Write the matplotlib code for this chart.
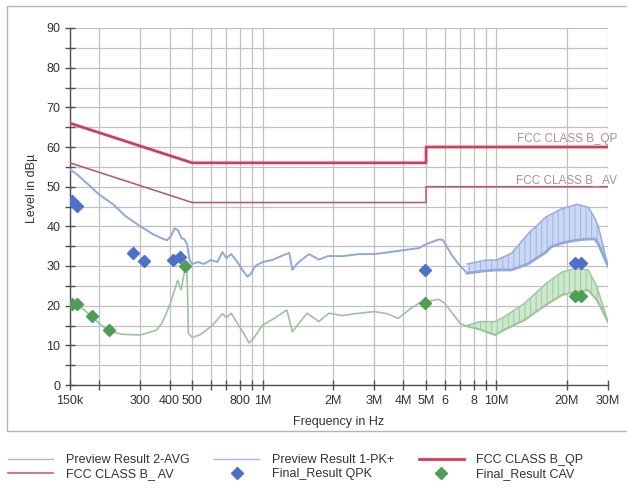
import matplotlib
matplotlib.use("Agg")
import matplotlib.pyplot as plt
import matplotlib.transforms as mtransforms
from matplotlib.patches import Rectangle
from matplotlib.lines import Line2D

plt.rcParams['font.family'] = ['Liberation Sans', 'DejaVu Sans']
plt.rcParams['hatch.linewidth'] = 0.7

# ---------------- data ----------------
pk_freq = [150e3, 160e3, 180e3, 200e3, 230e3, 260e3, 300e3, 340e3, 370e3, 390e3,
           405e3, 420e3, 435e3, 450e3, 462e3, 475e3, 487e3, 500e3, 530e3, 560e3,
           600e3, 640e3, 673e3, 700e3, 734e3, 780e3, 820e3, 860e3, 890e3, 930e3,
           1.0e6, 1.1e6, 1.2e6, 1.3e6, 1.34e6, 1.4e6, 1.5e6, 1.58e6, 1.74e6, 1.9e6,
           2.2e6, 2.6e6, 3.0e6, 3.5e6, 4.0e6, 4.66e6, 5.0e6, 5.67e6, 5.9e6, 6.4e6,
           6.86e6, 7.5e6]
pk_level = [54.3, 53.2, 50.5, 48.0, 45.5, 42.5, 40.0, 38.0, 37.0, 36.5,
            37.5, 39.5, 39.0, 37.0, 36.8, 35.5, 31.5, 30.5, 31.0, 30.5,
            31.5, 31.0, 33.5, 32.0, 33.0, 31.0, 29.0, 27.3, 28.0, 30.0,
            31.0, 31.5, 32.5, 33.3, 29.0, 30.5, 32.0, 33.0, 31.6, 32.5,
            32.5, 33.0, 33.0, 33.5, 34.0, 34.5, 35.5, 36.7, 36.6, 33.0,
            30.6, 28.2]
pk_band_freq = [7.5e6, 9e6, 10e6, 11.6e6, 13.7e6, 16.3e6, 17.1e6, 19.1e6, 21.5e6,
                22e6, 24.7e6, 26.4e6, 27.3e6, 30e6]
pk_band_low = [28.2, 28.8, 29.0, 29.0, 30.6, 33.5, 34.8, 35.8, 36.4,
               36.5, 36.8, 36.8, 35.5, 30.0]
pk_band_high = [30.5, 31.5, 31.5, 33.2, 38.2, 42.4, 43.0, 44.5, 45.3,
                45.6, 44.8, 42.0, 39.9, 30.0]

avg_freq = [150e3, 160e3, 180e3, 200e3, 220e3, 250e3, 300e3, 351e3, 370e3, 387e3,
            405e3, 420e3, 433e3, 448e3, 462e3, 474e3, 478e3, 481e3, 500e3, 537e3,
            580e3, 620e3, 673e3, 700e3, 734e3, 780e3, 830e3, 876e3, 920e3, 1.0e6,
            1.1e6, 1.27e6, 1.34e6, 1.45e6, 1.55e6, 1.74e6, 1.92e6, 2.2e6, 2.5e6, 3.0e6,
            3.4e6, 3.8e6, 4.3e6, 4.66e6, 4.95e6, 5.67e6, 6.0e6, 6.5e6, 7.0e6, 7.4e6]
avg_level = [21.0, 20.5, 18.0, 15.5, 13.6, 12.8, 12.6, 13.8, 15.5, 18.0,
             21.0, 24.0, 26.4, 24.0, 28.2, 29.7, 22.0, 13.0, 12.0, 12.6,
             14.0, 15.5, 18.0, 17.0, 18.1, 15.5, 13.0, 10.6, 12.0, 15.1,
             16.5, 18.9, 13.4, 16.0, 18.1, 16.0, 18.1, 17.5, 18.0, 18.5,
             18.0, 16.8, 19.3, 20.6, 21.0, 21.6, 20.6, 18.0, 15.5, 14.9]
avg_band_freq = [7.4e6, 8.5e6, 9.86e6, 10.8e6, 13.2e6, 16.3e6, 19.1e6, 21.5e6,
                 24.7e6, 26.9e6, 30e6]
avg_band_low = [14.9, 14.0, 12.6, 13.9, 16.4, 20.2, 22.7, 23.4, 23.9, 21.4, 15.9]
avg_band_high = [14.9, 16.0, 16.0, 17.2, 20.6, 25.6, 28.5, 29.3, 29.0, 24.8, 15.9]

qp_limit_freq = [150e3, 500e3, 5e6, 5e6, 30e6]
qp_limit = [66, 56, 56, 60, 60]
av_limit_freq = [150e3, 500e3, 5e6, 5e6, 30e6]
av_limit = [56, 46, 46, 50, 50]

qpk_freq = [153e3, 160e3, 279e3, 311e3, 413e3, 441e3, 4.95e6, 21.6e6, 23e6]
qpk_level = [46.5, 45.2, 33.3, 31.3, 31.5, 32.3, 29.1, 30.8, 30.8]
cav_freq = [153e3, 160e3, 186e3, 220e3, 467e3, 4.95e6, 21.6e6, 23e6]
cav_level = [20.5, 20.4, 17.5, 13.8, 30.0, 20.7, 22.4, 22.4]

xtick_vals = [150e3, 200e3, 300e3, 400e3, 500e3, 600e3, 700e3, 800e3, 900e3, 1e6,
              2e6, 3e6, 4e6, 5e6, 6e6, 7e6, 8e6, 9e6, 10e6, 20e6, 30e6]
xtick_labels = ["150k", "", "300", "400", "500", "", "", "800", "", "1M",
                "2M", "3M", "4M", "5M", "6", "", "8", "", "10M", "20M", "30M"]

# ---------------- figure ----------------
W, H = 627, 488
fig = plt.figure(figsize=(W / 100, H / 100), dpi=100)
fig.patches.append(Rectangle((7 / W, 1 - 431 / H), 1.2, (431 - 6) / H,
                             transform=fig.transFigure, fill=False,
                             edgecolor='#b4b4b4', linewidth=1.0))
ax = fig.add_axes([70 / W, 1 - 385 / H, (608 - 70) / W, (385 - 28) / H])

ax.set_xscale('log')
ax.set_xlim(150e3, 30e6)
ax.set_ylim(0, 90)

grid_c = '#c0c0c0'
ax.set_xticks(xtick_vals)
ax.set_xticklabels(xtick_labels)
ax.xaxis.set_minor_locator(matplotlib.ticker.NullLocator())
ax.set_yticks(range(0, 91, 10))
ax.set_yticks(range(5, 90, 10), minor=True)
ax.grid(True, which='major', color=grid_c, linewidth=0.9)
ax.grid(True, which='minor', axis='y', color=grid_c, linewidth=0.9)
ax.set_axisbelow(True)

for s in ['top', 'right']:
    ax.spines[s].set_visible(False)
for s in ['left', 'bottom']:
    ax.spines[s].set_color('#505050')
    ax.spines[s].set_linewidth(1.0)
ax.tick_params(which='both', direction='inout', length=7, width=1.0,
               color='#505050', labelsize=9, labelcolor='#333333')
ax.tick_params(axis='x', pad=4)

# limits
qp_c = '#d83a55'
av_c = '#c2506a'
ax.plot(qp_limit_freq, qp_limit, color=qp_c, lw=2.0, zorder=3)
ax.plot(av_limit_freq, av_limit, color=av_c, lw=1.1, zorder=3)

# preview traces
pk_c = '#8fa8de'
avg_c = '#9cc49c'
ax.plot(pk_freq, pk_level, color=pk_c, lw=1.4, zorder=4)
ax.fill_between(pk_band_freq, pk_band_low, pk_band_high, facecolor='#cbd8f3',
                edgecolor='#9cb3e4', hatch='|||', linewidth=0, zorder=4)
ax.plot(pk_band_freq, pk_band_low, color=pk_c, lw=2.0, zorder=4)
ax.plot(pk_band_freq, pk_band_high, color=pk_c, lw=1.0, zorder=4)

ax.plot(avg_freq, avg_level, color=avg_c, lw=1.2, zorder=4)
ax.fill_between(avg_band_freq, avg_band_low, avg_band_high, facecolor='#cde8cd',
                edgecolor='#9ccc9c', hatch='|||', linewidth=0, zorder=4)
ax.plot(avg_band_freq, avg_band_low, color=avg_c, lw=1.5, zorder=4)
ax.plot(avg_band_freq, avg_band_high, color=avg_c, lw=1.0, zorder=4)

# final results
qpk_c = '#4d70cc'
cav_c = '#4e9f55'
ax.plot(qpk_freq, qpk_level, linestyle='none', marker='D', ms=6.5,
        color=qpk_c, zorder=6)
ax.plot(cav_freq, cav_level, linestyle='none', marker='D', ms=6.5,
        color=cav_c, zorder=6)

# limit labels
off = mtransforms.offset_copy(ax.transData, fig=fig, x=9, y=0, units='dots')
ax.text(qp_limit_freq[-1], 62.0, 'FCC CLASS B_QP', ha='right', va='center',
        fontsize=8.5, color='#b38d96', transform=off, zorder=5)
ax.text(av_limit_freq[-1], 51.6, 'FCC CLASS B_ AV', ha='right', va='center',
        fontsize=8.5, color='#b38d96', transform=off, zorder=5)

ax.set_xlabel('Frequency in Hz', fontsize=9, color='#333333', labelpad=6)
ax.set_ylabel('Level in dBµ', fontsize=9, color='#333333', labelpad=4)
ax.yaxis.set_label_coords(-0.06, 0.55)

# legend (column-major order)
h_avg = Line2D([], [], color='#b4b8b4', lw=1.0)
h_av = Line2D([], [], color=av_c, lw=1.1)
h_pk = Line2D([], [], color='#a8b4ea', lw=1.0)
h_qpk = Line2D([], [], color=qpk_c, marker='D', ms=6, linestyle='none')
h_qp = Line2D([], [], color=qp_c, lw=2.0)
h_cav = Line2D([], [], color=cav_c, marker='D', ms=6, linestyle='none')
fig.legend([h_avg, h_av, h_pk, h_qpk, h_qp, h_cav],
           ['Preview Result 2-AVG', 'FCC CLASS B_ AV', 'Preview Result 1-PK+',
            'Final_Result QPK', 'FCC CLASS B_QP', 'Final_Result CAV'],
           ncol=3, loc='center left', bbox_to_anchor=(8 / W, 1 - 467 / H),
           frameon=False, fontsize=9, handlelength=3.6, handletextpad=1.0,
           columnspacing=2.0, labelspacing=0.15, borderpad=0, borderaxespad=0,
           labelcolor='#333333')

fig.savefig('out.png', dpi=100)
